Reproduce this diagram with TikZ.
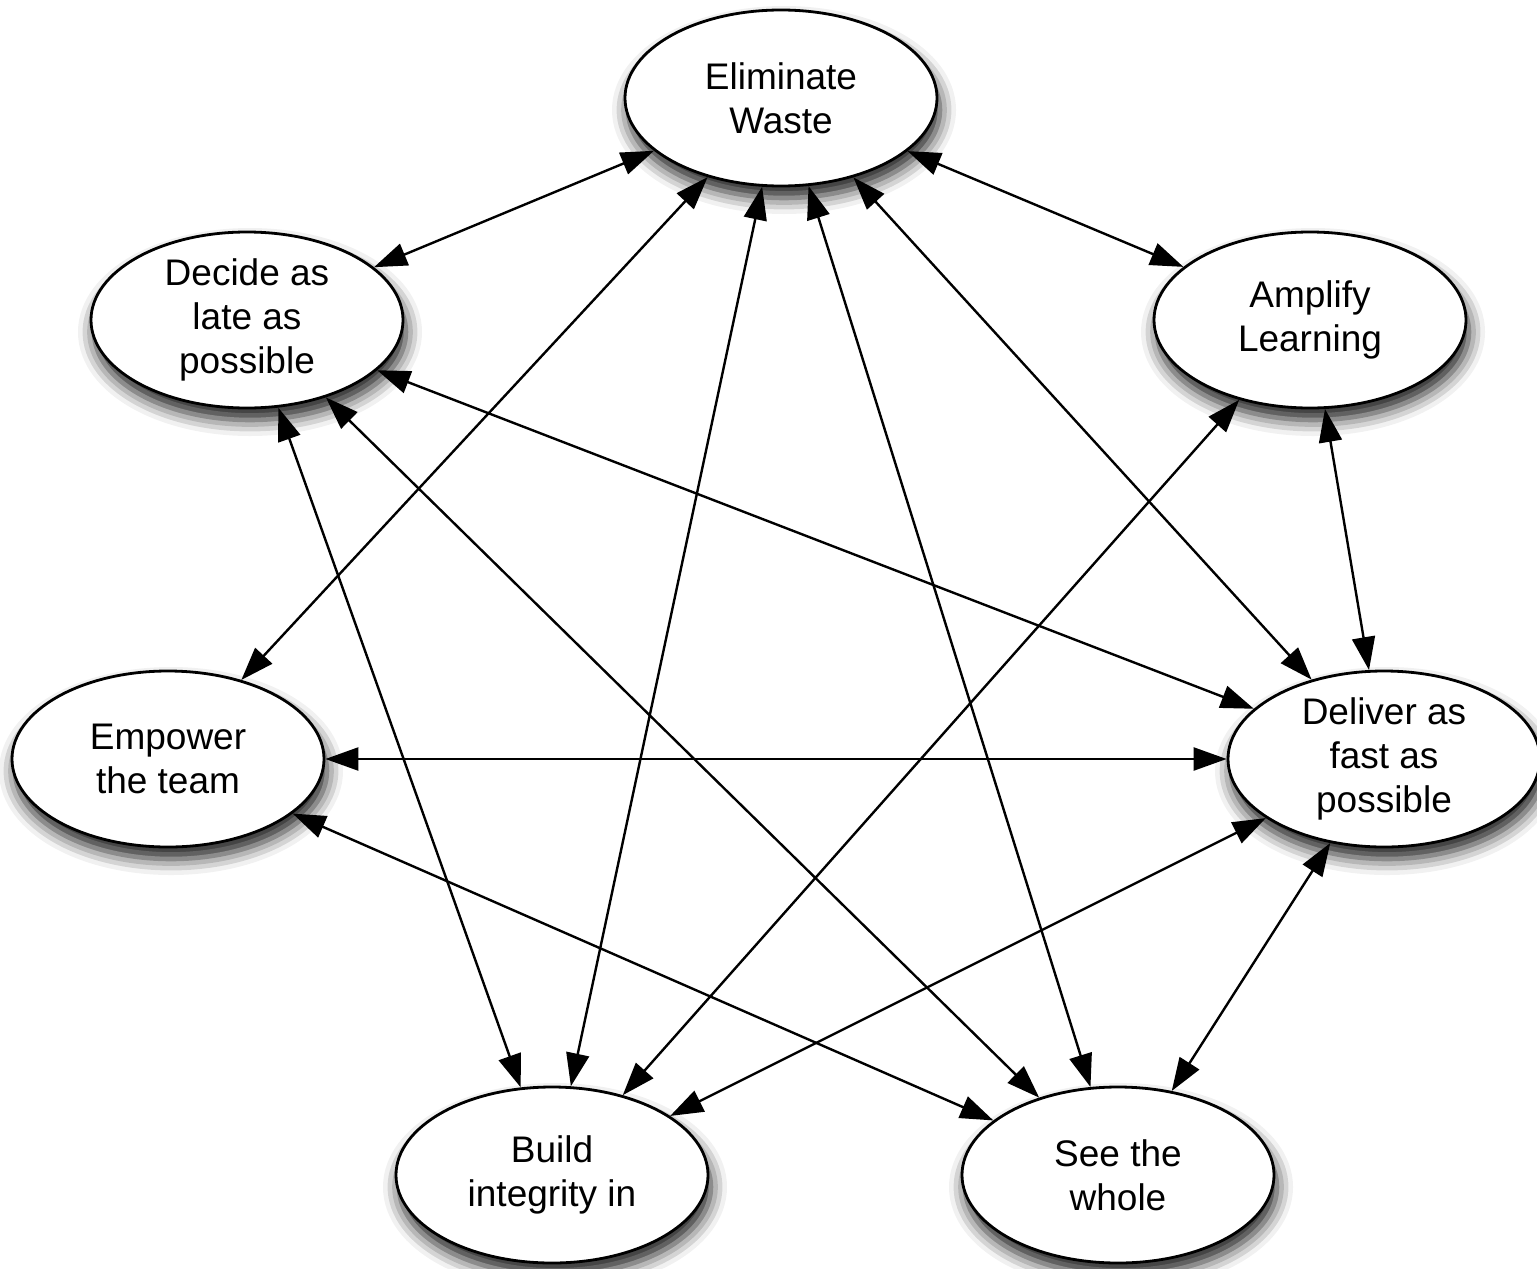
\documentclass[tikz,border=0pt]{standalone}
\usepackage{fontspec}
\setsansfont{Liberation Sans}
\usetikzlibrary{arrows.meta,shapes.geometric,shadows.blur}

\begin{document}
\begin{tikzpicture}[x=0.5pt,y=-0.5pt,
  principle/.style={ellipse,draw,line width=1.4pt,fill=white,
    minimum width=156pt,minimum height=88pt,inner sep=0pt,align=center,
    font=\sffamily\fontsize{18.5}{21.8}\selectfont,
    blur shadow={shadow xshift=1.5pt,shadow yshift=-6pt,shadow blur radius=8pt,shadow opacity=90}},
  link/.style={{Triangle[length=16.5pt,width=11.5pt]}-{Triangle[length=16.5pt,width=11.5pt]},line width=1.2pt}]
\useasboundingbox (0,0) rectangle (1537,1269);
% the seven principles
\node[principle] (EW) at (781,98) {Eliminate\\Waste};
\node[principle] (DL) at (247,320) {Decide as\\late as\\possible};
\node[principle] (AL) at (1310,320) {Amplify\\Learning};
\node[principle] (ET) at (168,759) {Empower\\the team};
\node[principle] (DF) at (1384,759) {Deliver as\\fast as\\possible};
\node[principle] (BI) at (552,1175) {Build\\integrity in};
\node[principle] (SW) at (1118,1175) {See the\\whole};
% links between them
\foreach \a/\b in {EW/DL,EW/AL,EW/ET,EW/BI,EW/SW,EW/DF,
                   DL/DF,DL/BI,DL/SW,AL/DF,AL/BI,
                   ET/DF,ET/SW,DF/BI,DF/SW}
	\draw[link] (\a) -- (\b);
\end{tikzpicture}
\end{document}
